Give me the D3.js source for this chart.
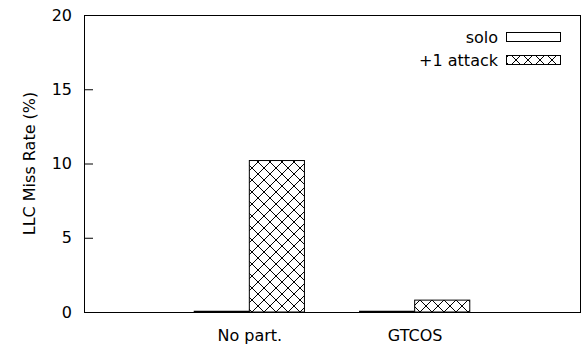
<!DOCTYPE html>
<html>
<head>
<meta charset="utf-8">
<script src="https://cdn.jsdelivr.net/npm/d3@7"></script>
<style>
  html, body { margin: 0; padding: 0; background: #fff; }
  svg { display: block; font-family: "DejaVu Sans", Verdana, sans-serif; }
</style>
</head>
<body>
<svg id="chart" width="584" height="350"></svg>
<script>
const categories = ["No part.", "GTCOS"];
const seriesNames = ["solo", "+1 attack"];
const soloValues = [0.05, 0.05];
const attackValues = [10.2, 0.8];
const yTicks = [0, 5, 10, 15, 20];
const yLabel = "LLC Miss Rate (%)";

const svg = d3.select("#chart");
const mLeft = 84, mRight = 580, mTop = 15, mBottom = 312;
const fontSize = 16;

const x = d3.scaleLinear().domain([-1, categories.length]).range([mLeft, mRight]);
const y = d3.scaleLinear().domain([0, 20]).range([mBottom, mTop]);
const barW = 1 / 3;

// hatch pattern
const defs = svg.append("defs");
const pat = defs.append("pattern")
  .attr("id", "cross")
  .attr("patternUnits", "userSpaceOnUse")
  .attr("width", 12).attr("height", 12);
pat.append("rect").attr("width", 12).attr("height", 12).attr("fill", "#fff");
pat.append("path")
  .attr("d", "M0,0L12,12M0,12L12,0M-1,11L1,13M11,-1L13,1M-1,1L1,-1M11,13L13,11")
  .attr("stroke", "#000").attr("stroke-width", 1).attr("fill", "none");

// bars
const series = [
  { name: seriesNames[0], values: soloValues, offset: -barW, fill: "#fff" },
  { name: seriesNames[1], values: attackValues, offset: 0, fill: "url(#cross)" }
];
series.forEach(s => {
  svg.append("g").selectAll("rect")
    .data(s.values)
    .join("rect")
    .attr("x", (d, i) => x(i + s.offset))
    .attr("width", x(barW) - x(0))
    .attr("y", d => y(d))
    .attr("height", d => y(0) - y(d))
    .attr("fill", s.fill)
    .attr("stroke", "#000")
    .attr("stroke-width", 1);
});

// y axis ticks (inside) and labels
const yAxis = d3.axisLeft(y).tickValues(yTicks).tickSize(-9).tickPadding(12);
const gy = svg.append("g").attr("transform", `translate(${mLeft},0)`).call(yAxis);
gy.select(".domain").remove();
gy.selectAll(".tick line").attr("stroke", "#000");
gy.selectAll(".tick text")
  .attr("font-size", fontSize)
  .attr("font-family", "DejaVu Sans, sans-serif")
  .attr("fill", "#000");
gy.selectAll(".tick").filter(d => d === 0 || d === 20).select("line").remove();

// x axis labels
const xAxis = d3.axisBottom(x).tickValues(categories.map((c, i) => i))
  .tickFormat(i => categories[i]).tickSize(0).tickPadding(18);
const gx = svg.append("g").attr("transform", `translate(0,${mBottom})`).call(xAxis);
gx.select(".domain").remove();
gx.selectAll(".tick text")
  .attr("font-size", fontSize)
  .attr("font-family", "DejaVu Sans, sans-serif")
  .attr("fill", "#000");

// frame
svg.append("rect")
  .attr("x", mLeft + 0.5).attr("y", mTop + 0.5)
  .attr("width", mRight - mLeft).attr("height", mBottom - mTop)
  .attr("fill", "none").attr("stroke", "#000").attr("stroke-width", 1);

// y label
svg.append("text")
  .attr("transform", `translate(35,${(mTop + mBottom) / 2}) rotate(-90)`)
  .attr("text-anchor", "middle")
  .attr("font-size", fontSize)
  .attr("fill", "#000")
  .text(yLabel);

// legend
const legendY = [37, 60];
const lg = svg.append("g");
series.forEach((s, i) => {
  lg.append("text")
    .attr("x", 498).attr("y", legendY[i] + 6)
    .attr("text-anchor", "end")
    .attr("font-size", fontSize)
    .attr("fill", "#000")
    .text(s.name);
  lg.append("rect")
    .attr("x", 506.5).attr("y", legendY[i] - 4.5)
    .attr("width", 54).attr("height", 9)
    .attr("fill", s.fill)
    .attr("stroke", "#000").attr("stroke-width", 1);
});
</script>
</body>
</html>
